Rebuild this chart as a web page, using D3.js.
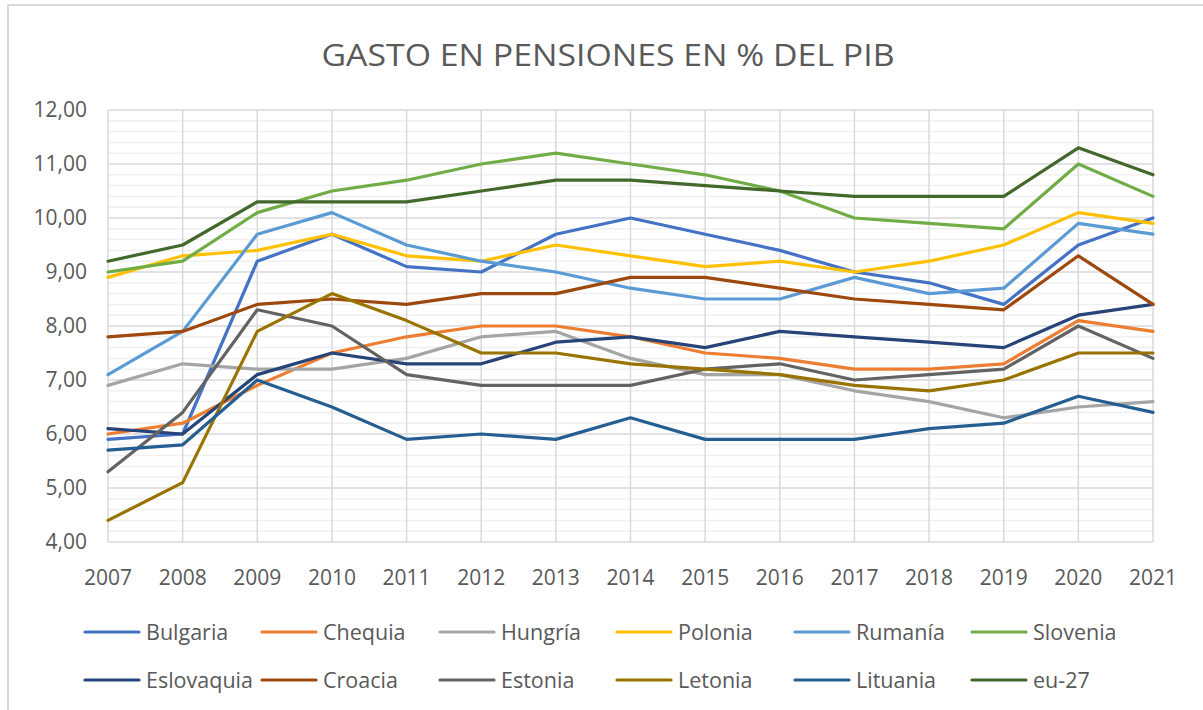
<!DOCTYPE html>
<html><head><meta charset="utf-8">
<script src="https://cdn.jsdelivr.net/npm/d3@7"></script>
<style>html,body{margin:0;padding:0;background:#fff;}svg{display:block;}</style>
</head><body>
<script>
const years = [2007,2008,2009,2010,2011,2012,2013,2014,2015,2016,2017,2018,2019,2020,2021];
const yTicks = [4,5,6,7,8,9,10,11,12];
const seriesNames = ["Bulgaria","Chequia","Hungría","Polonia","Rumanía","Slovenia","Eslovaquia","Croacia","Estonia","Letonia","Lituania","eu-27"];
const bulgaria   = [5.9,6.0,9.2,9.7,9.1,9.0,9.7,10.0,9.7,9.4,9.0,8.8,8.4,9.5,10.0];
const chequia    = [6.0,6.2,6.9,7.5,7.8,8.0,8.0,7.8,7.5,7.4,7.2,7.2,7.3,8.1,7.9];
const hungria    = [6.9,7.3,7.2,7.2,7.4,7.8,7.9,7.4,7.1,7.1,6.8,6.6,6.3,6.5,6.6];
const polonia    = [8.9,9.3,9.4,9.7,9.3,9.2,9.5,9.3,9.1,9.2,9.0,9.2,9.5,10.1,9.9];
const rumania    = [7.1,7.9,9.7,10.1,9.5,9.2,9.0,8.7,8.5,8.5,8.9,8.6,8.7,9.9,9.7];
const slovenia   = [9.0,9.2,10.1,10.5,10.7,11.0,11.2,11.0,10.8,10.5,10.0,9.9,9.8,11.0,10.4];
const eslovaquia = [6.1,6.0,7.1,7.5,7.3,7.3,7.7,7.8,7.6,7.9,7.8,7.7,7.6,8.2,8.4];
const croacia    = [7.8,7.9,8.4,8.5,8.4,8.6,8.6,8.9,8.9,8.7,8.5,8.4,8.3,9.3,8.4];
const estonia    = [5.3,6.4,8.3,8.0,7.1,6.9,6.9,6.9,7.2,7.3,7.0,7.1,7.2,8.0,7.4];
const letonia    = [4.4,5.1,7.9,8.6,8.1,7.5,7.5,7.3,7.2,7.1,6.9,6.8,7.0,7.5,7.5];
const lituania   = [5.7,5.8,7.0,6.5,5.9,6.0,5.9,6.3,5.9,5.9,5.9,6.1,6.2,6.7,6.4];
const eu27       = [9.2,9.5,10.3,10.3,10.3,10.5,10.7,10.7,10.6,10.5,10.4,10.4,10.4,11.3,10.8];
const seriesValues = [bulgaria,chequia,hungria,polonia,rumania,slovenia,eslovaquia,croacia,estonia,letonia,lituania,eu27];
const colors = ["#4472C4","#ED7D31","#A5A5A5","#FFC000","#5B9BD5","#70AD47","#264478","#9E480E","#636363","#997300","#255E91","#43682B"];

const W = 1203, H = 710;
const svg = d3.select("body").append("svg").attr("width", W).attr("height", H);
const font = "'Open Sans', 'Noto Sans', sans-serif";
const textColor = "#595959";

// chart frame
svg.append("rect").attr("x", 8).attr("y", 5).attr("width", W + 20).attr("height", H + 20)
  .attr("fill", "#fff").attr("stroke", "#d9d9d9").attr("stroke-width", 2);

const x = d3.scaleLinear().domain([2007, 2021]).range([108, 1153]);
const y = d3.scaleLinear().domain([4, 12]).range([542, 110]);

// minor gridlines
const minor = d3.range(4, 12.001, 0.2).filter(v => Math.abs(v - Math.round(v)) > 1e-6);
svg.append("g").selectAll("line").data(minor).join("line")
  .attr("x1", x(2007)).attr("x2", x(2021))
  .attr("y1", d => y(d)).attr("y2", d => y(d))
  .attr("stroke", "#f0f0f0").attr("stroke-width", 1.5);

// vertical gridlines
svg.append("g").selectAll("line").data(years).join("line")
  .attr("x1", d => x(d)).attr("x2", d => x(d))
  .attr("y1", y(12)).attr("y2", y(4))
  .attr("stroke", "#d9d9d9").attr("stroke-width", 1.5);

// major gridlines
svg.append("g").selectAll("line").data(yTicks).join("line")
  .attr("x1", x(2007)).attr("x2", x(2021))
  .attr("y1", d => y(d)).attr("y2", d => y(d))
  .attr("stroke", "#d9d9d9").attr("stroke-width", 1.5);

// y axis labels
const fmt = v => d3.format(".2f")(v).replace(".", ",");
svg.append("g").selectAll("text").data(yTicks).join("text")
  .attr("x", 87).attr("y", d => y(d)).attr("dy", "0.35em")
  .attr("text-anchor", "end").attr("font-family", font).attr("font-size", 21)
  .attr("fill", textColor).text(fmt);

// x axis labels
svg.append("g").selectAll("text").data(years).join("text")
  .attr("x", d => x(d)).attr("y", 578).attr("dy", "0.35em")
  .attr("text-anchor", "middle").attr("font-family", font).attr("font-size", 21)
  .attr("fill", textColor).text(d => d);

// lines
const line = d3.line().x((d, i) => x(years[i])).y(d => y(d));
svg.append("g").selectAll("path").data(seriesValues).join("path")
  .attr("d", d => line(d)).attr("fill", "none")
  .attr("stroke", (d, i) => colors[i]).attr("stroke-width", 3.2)
  .attr("stroke-linejoin", "round").attr("stroke-linecap", "round");

// title
svg.append("text").attr("x", 608).attr("y", 55).attr("dy", "0.35em")
  .attr("text-anchor", "middle").attr("font-family", font).attr("font-size", 31)
  .attr("fill", textColor).attr("textLength", 573).attr("lengthAdjust", "spacingAndGlyphs")
  .text("GASTO EN PENSIONES EN % DEL PIB");

// legend
const legX = [85, 262, 440, 617, 795, 972];
const legY = [632, 680];
const leg = svg.append("g").selectAll("g").data(seriesNames).join("g")
  .attr("transform", (d, i) => `translate(${legX[i % 6]},${legY[Math.floor(i / 6)]})`);
leg.append("line").attr("x1", 0).attr("x2", 54).attr("y1", 0).attr("y2", 0)
  .attr("stroke", (d, i) => colors[i]).attr("stroke-width", 3.2).attr("stroke-linecap", "round");
leg.append("text").attr("x", 61).attr("y", 0).attr("dy", "0.35em")
  .attr("font-family", font).attr("font-size", 21.5).attr("fill", textColor).text(d => d);
</script>
</body></html>
